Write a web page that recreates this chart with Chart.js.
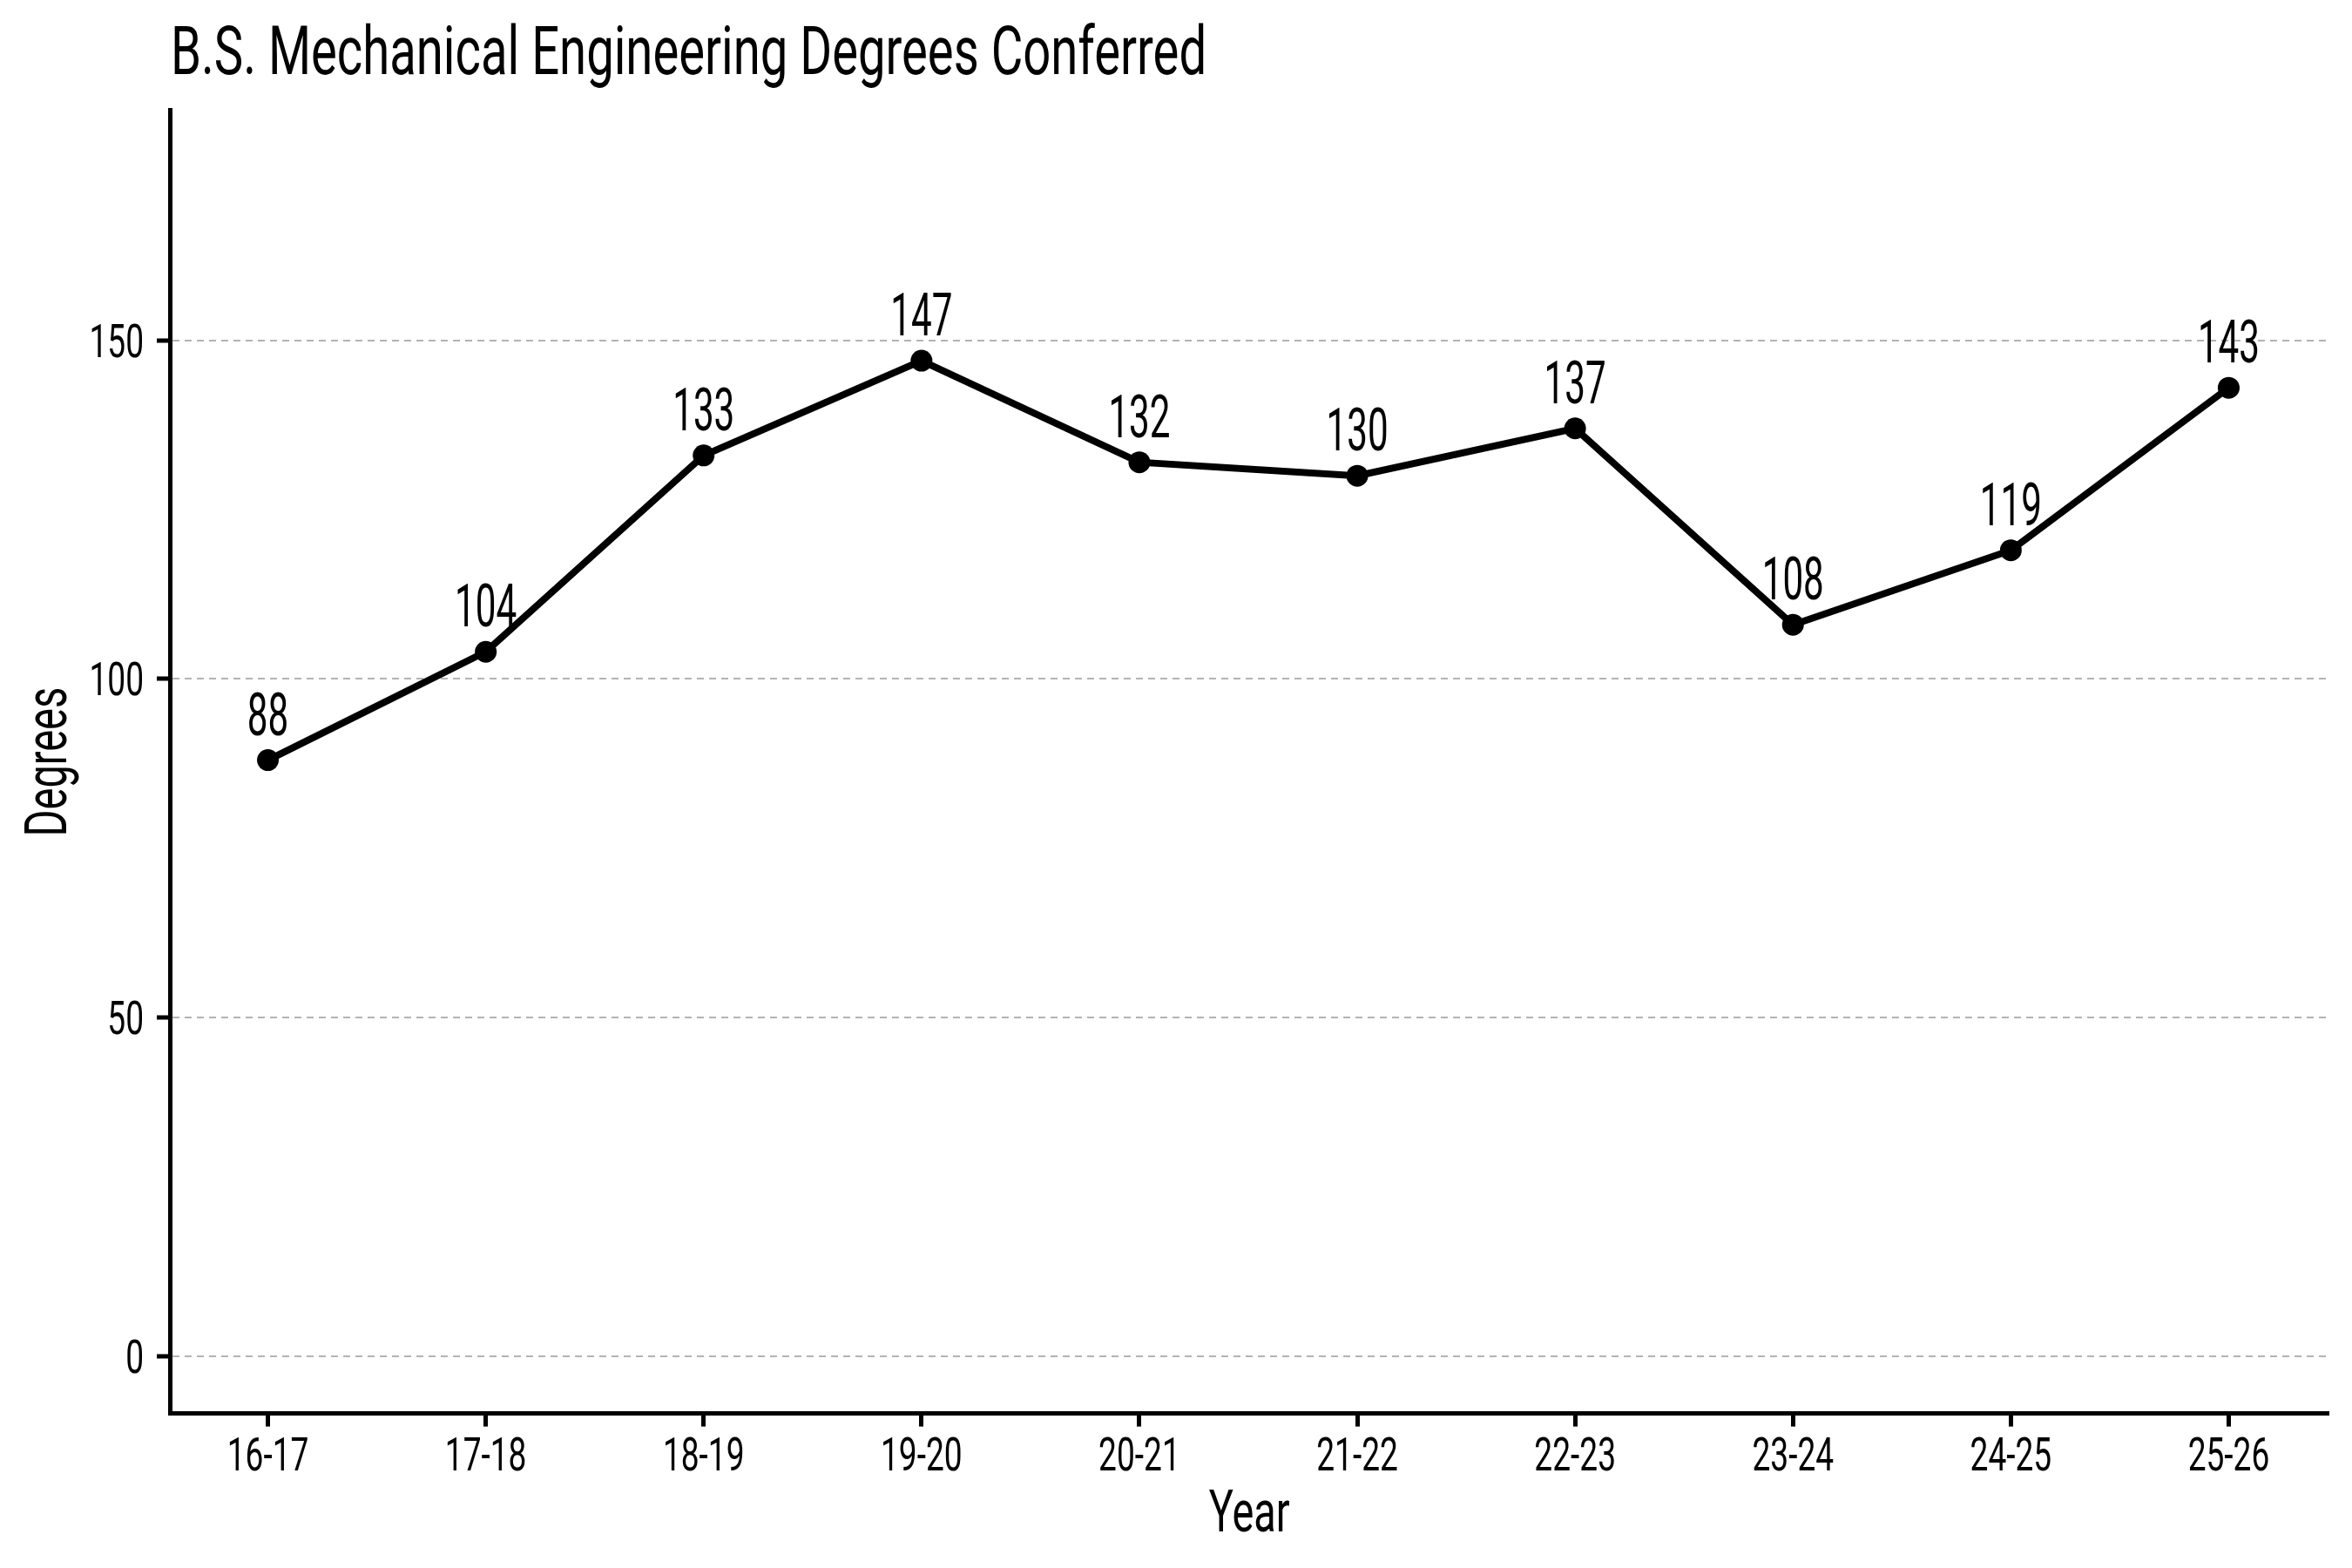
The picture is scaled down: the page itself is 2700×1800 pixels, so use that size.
<!DOCTYPE html>
<html>
<head>
<meta charset="utf-8">
<script src="https://cdn.jsdelivr.net/npm/chart.js@4.4.1/dist/chart.umd.min.js"></script>
<style>
  html, body { margin: 0; padding: 0; background: #ffffff; }
  canvas { display: block; }
</style>
</head>
<body>
<canvas id="c" width="2700" height="1800"></canvas>
<script>
const years = ['16-17', '17-18', '18-19', '19-20', '20-21', '21-22', '22-23', '23-24', '24-25', '25-26'];
const degrees = [88, 104, 133, 147, 132, 130, 137, 108, 119, 143];
const yTicks = [0, 50, 100, 150];
const chartTitle = 'B.S. Mechanical Engineering Degrees Conferred';
const xTitle = 'Year';
const yTitle = 'Degrees';

const FONT = "Roboto, 'DejaVu Sans Condensed', sans-serif";

// condensed text helper (horizontal squeeze to mimic a condensed face)
function drawText(ctx, s, x, y, size, sx, align, baseline, rot) {
  ctx.save();
  ctx.translate(x, y);
  if (rot) ctx.rotate(rot);
  ctx.scale(sx, 1);
  ctx.font = 'normal ' + size + 'px ' + FONT;
  ctx.fillStyle = '#000000';
  ctx.textAlign = align;
  ctx.textBaseline = baseline;
  ctx.fillText(s, 0, 0);
  ctx.restore();
}

const textLayer = {
  id: 'textLayer',
  afterDraw(chart) {
    const ctx = chart.ctx;
    const ca = chart.chartArea;
    const xs = chart.scales.x, ys = chart.scales.y;
    // title
    drawText(ctx, chartTitle, ca.left + 1, 85, 77, 0.73, 'left', 'alphabetic');
    // y tick labels
    yTicks.forEach(v => {
      drawText(ctx, String(v), ca.left - 30, ys.getPixelForValue(v) + 19, 53, 0.7, 'right', 'alphabetic');
    });
    // x tick labels
    years.forEach((lab, i) => {
      drawText(ctx, lab, xs.getPixelForValue(i), 1687.5, 53, 0.7, 'center', 'alphabetic');
    });
    // axis titles
    drawText(ctx, xTitle, (ca.left + ca.right) / 2, 1758, 66, 0.71, 'center', 'alphabetic');
    drawText(ctx, yTitle, 76, (ca.top + ca.bottom) / 2, 66, 0.71, 'center', 'alphabetic', -Math.PI / 2);
    // value labels
    const meta = chart.getDatasetMeta(0);
    meta.data.forEach((pt, i) => {
      drawText(ctx, String(degrees[i]), pt.x, pt.y - 29, 68, 0.62, 'center', 'alphabetic');
    });
  }
};

new Chart(document.getElementById('c'), {
  type: 'line',
  data: {
    datasets: [{
      data: degrees.map((v, i) => ({ x: i, y: v })),
      borderColor: '#000000',
      backgroundColor: '#000000',
      borderWidth: 8,
      pointRadius: 12.5,
      pointBorderWidth: 0,
      pointBackgroundColor: '#000000',
      tension: 0,
      fill: false
    }]
  },
  options: {
    responsive: false,
    animation: false,
    devicePixelRatio: 1,
    layout: { padding: { left: 0, right: 26.5, top: 126.5, bottom: 0 } },
    plugins: {
      legend: { display: false },
      tooltip: { enabled: false },
      title: { display: false }
    },
    scales: {
      x: {
        type: 'linear',
        min: -0.45,
        max: 9.46,
        afterBuildTicks: (s) => { s.ticks = years.map((_, i) => ({ value: i })); },
        afterFit: (s) => { s.height = 177.4; },
        ticks: { display: false },
        grid: {
          drawOnChartArea: false,
          drawTicks: true,
          tickLength: 15,
          tickWidth: 5,
          tickColor: '#000000'
        },
        border: { display: true, color: '#000000', width: 5 },
        title: { display: false }
      },
      y: {
        type: 'linear',
        min: -8.5,
        max: 184,
        afterBuildTicks: (s) => { s.ticks = yTicks.map(v => ({ value: v })); },
        afterFit: (s) => { s.width = 195; },
        ticks: { display: false },
        grid: {
          drawOnChartArea: true,
          drawTicks: true,
          color: '#b3b3b3',
          lineWidth: 2,
          tickLength: 15,
          tickWidth: 5,
          tickColor: '#000000'
        },
        border: { display: true, color: '#000000', width: 5, dash: [8, 6] },
        title: { display: false }
      }
    }
  },
  plugins: [textLayer]
});
</script>
</body>
</html>
